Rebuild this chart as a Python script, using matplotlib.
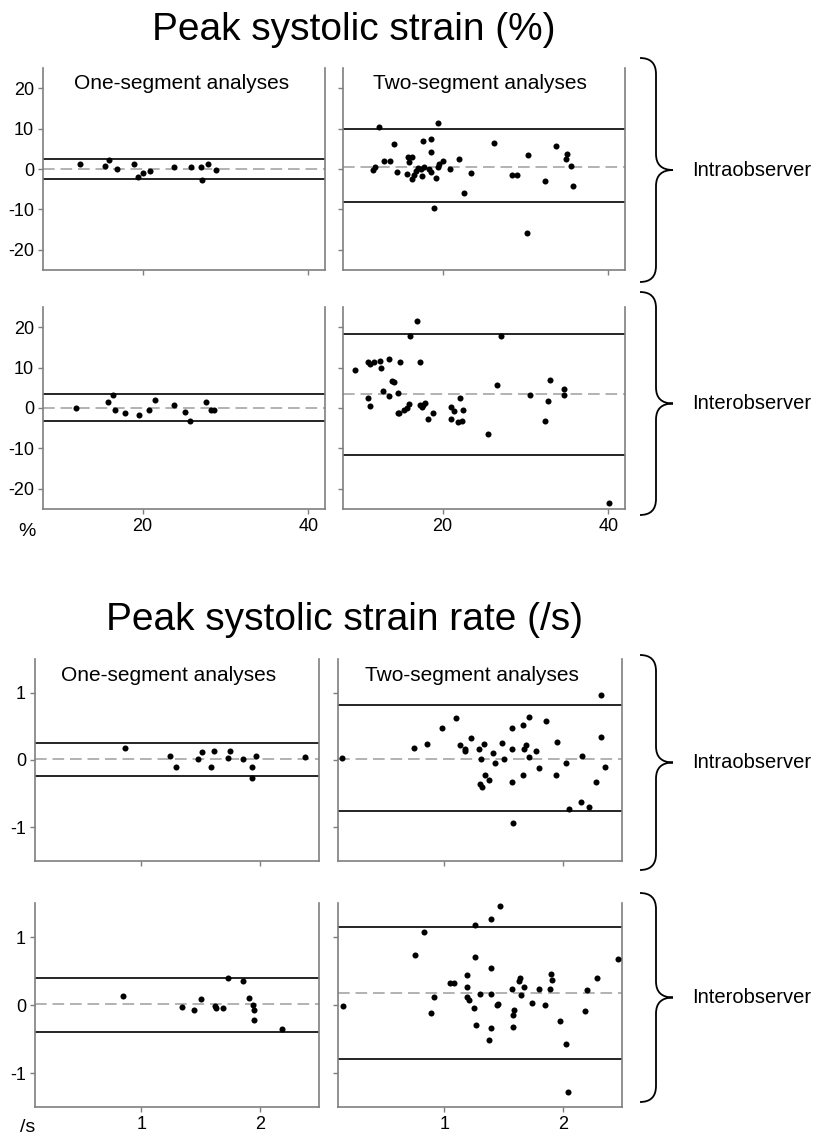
import matplotlib
matplotlib.use("Agg")
import matplotlib.pyplot as plt
from matplotlib.path import Path
from matplotlib.patches import PathPatch

plt.rcParams['font.family'] = ['Liberation Sans', 'DejaVu Sans']

W, H = 820, 1138

# ---------------- data ----------------
# Peak systolic strain (%) - intraobserver, one-segment
s_intra_one_x = [12.5, 15.5, 16.0, 16.9, 19.0, 19.4, 20.1, 20.9, 23.8, 25.8, 27.1, 27.9, 27.2, 28.8]
s_intra_one_y = [1.2, 0.8, 2.2, 0.1, 1.2, -2.0, -0.9, -0.4, 0.6, 0.4, 0.4, 1.2, -2.6, -0.3]
s_intra_one_lines = [0.0, 2.5, -2.5]   # mean, upper, lower

# intraobserver, two-segment
s_intra_two_x = [12.3, 19.5, 14.2, 17.7, 18.6, 18.6, 13.0, 13.7, 15.8, 16.3, 15.9, 20.1, 22.0, 26.2,
                 30.3, 33.7, 35.0, 34.9, 35.5, 35.7, 11.6, 11.9, 14.5, 15.7, 16.3, 16.5, 16.8, 17.0,
                 17.5, 17.4, 17.8, 18.4, 18.6, 19.2, 19.5, 19.6, 20.9, 23.4, 22.6, 19.0, 28.4, 29.0,
                 32.3, 30.2]
s_intra_two_y = [10.5, 11.4, 6.3, 6.9, 7.4, 4.1, 2.1, 2.1, 3.0, 3.0, 1.7, 2.1, 2.5, 6.5,
                 3.4, 5.6, 3.6, 2.5, 0.7, -4.3, -0.2, 0.6, -0.7, -1.2, -2.5, -1.5, -0.5, 0.2,
                 -1.7, 0.1, 0.6, 0.1, -0.7, -2.3, 0.4, 1.2, -0.1, -1.1, -5.9, -9.7, -1.5, -1.5,
                 -3.0, -15.8]
s_intra_two_lines = [0.6, 9.8, -8.1]

# interobserver, one-segment
s_inter_one_x = [12.0, 15.8, 16.4, 16.7, 17.9, 19.6, 20.8, 21.5, 23.8, 25.1, 25.7, 27.7, 28.2, 28.6]
s_inter_one_y = [0.0, 1.4, 3.1, -0.5, -1.2, -1.7, -0.5, 2.0, 0.7, -0.9, -3.3, 1.6, -0.5, -0.6]
s_inter_one_lines = [0.0, 3.4, -3.1]

# interobserver, two-segment
s_inter_two_x = [9.5, 11.0, 11.3, 11.7, 12.5, 12.6, 13.6, 14.9, 16.1, 16.9, 17.3, 13.9, 14.1, 12.8,
                 11.0, 11.3, 13.6, 14.6, 14.6, 14.8, 15.3, 15.7, 16.0, 17.3, 17.5, 17.9, 17.6, 18.8,
                 18.3, 21.0, 21.4, 22.1, 22.5, 21.0, 21.9, 22.4, 25.5, 26.6, 27.0, 30.5, 32.3, 32.7,
                 33.0, 34.6, 34.6, 40.1]
s_inter_two_y = [9.3, 11.5, 11.0, 11.3, 11.6, 9.8, 12.2, 11.5, 17.9, 21.6, 11.5, 6.7, 6.4, 4.1,
                 2.4, 0.6, 3.0, 3.6, -1.2, -1.2, -0.6, 0.0, 1.0, 0.8, 0.2, 1.2, 0.7, -1.2,
                 -2.6, 0.3, -0.8, 2.4, -0.5, -2.7, -3.4, -3.1, -6.5, 5.8, 17.7, 3.2, -3.1, 1.8,
                 7.0, 4.6, 3.2, -23.6]
s_inter_two_lines = [3.5, 18.3, -11.6]

# Peak systolic strain rate (/s) - intraobserver, one-segment
r_intra_one_x = [0.86, 1.24, 1.29, 1.48, 1.51, 1.61, 1.59, 1.73, 1.75, 1.86, 1.93, 1.93, 1.97, 2.38]
r_intra_one_y = [0.18, 0.06, -0.11, 0.02, 0.12, 0.14, -0.10, 0.03, 0.14, 0.01, -0.10, -0.26, 0.06, 0.04]
r_intra_one_lines = [0.01, 0.25, -0.24]

# intraobserver, two-segment
r_intra_two_x = [0.13, 0.74, 0.85, 0.98, 1.10, 1.13, 1.17, 1.17, 1.22, 1.29, 1.33, 1.31, 1.30, 1.32,
                 1.34, 1.38, 1.41, 1.43, 1.49, 1.50, 1.57, 1.57, 1.57, 1.58, 1.66, 1.67, 1.69, 1.71,
                 1.71, 1.66, 1.77, 1.80, 1.86, 1.94, 1.95, 2.03, 2.05, 2.15, 2.16, 2.22, 2.28, 2.32,
                 2.32, 2.36]
r_intra_two_y = [0.03, 0.18, 0.24, 0.47, 0.62, 0.23, 0.17, 0.13, 0.32, 0.17, 0.24, 0.02, -0.36, -0.40,
                 -0.23, -0.30, 0.11, -0.05, 0.25, 0.02, 0.48, 0.17, -0.32, -0.94, 0.52, 0.17, 0.22, 0.64,
                 0.04, -0.22, 0.14, -0.12, 0.58, -0.22, 0.27, -0.04, -0.73, -0.62, 0.06, -0.70, -0.32, 0.34,
                 0.96, -0.10]
r_intra_two_lines = [0.02, 0.82, -0.75]

# interobserver, one-segment
r_inter_one_x = [0.84, 1.34, 1.44, 1.50, 1.62, 1.63, 1.69, 1.73, 1.86, 1.91, 1.94, 1.95, 1.95, 2.19]
r_inter_one_y = [0.13, -0.03, -0.07, 0.09, -0.01, -0.05, -0.05, 0.39, 0.36, 0.10, 0.00, -0.08, -0.22, -0.36]
r_inter_one_lines = [0.02, 0.40, -0.39]

# interobserver, two-segment
r_inter_two_x = [0.14, 0.75, 0.83, 0.91, 0.89, 1.05, 1.08, 1.19, 1.19, 1.19, 1.21, 1.25, 1.26, 1.26,
                 1.27, 1.30, 1.39, 1.47, 1.39, 1.39, 1.39, 1.38, 1.44, 1.45, 1.57, 1.58, 1.58, 1.59,
                 1.63, 1.64, 1.65, 1.67, 1.74, 1.80, 1.85, 1.89, 1.90, 1.91, 1.98, 2.03, 2.04, 2.19,
                 2.20, 2.29, 2.47]
r_inter_two_y = [-0.01, 0.74, 1.08, 0.12, -0.12, 0.33, 0.32, 0.44, 0.26, 0.12, 0.08, -0.04, 1.17, 0.71,
                 -0.29, 0.16, 1.27, 1.45, 0.55, 0.16, -0.34, -0.52, 0.00, 0.01, 0.23, -0.33, -0.15, -0.07,
                 0.35, 0.39, 0.15, 0.26, 0.03, 0.23, 0.00, 0.23, 0.46, 0.37, -0.23, -0.58, -1.28, -0.09,
                 0.22, 0.40, 0.67]
r_inter_two_lines = [0.18, 1.15, -0.80]

strain_yticks = [20, 10, 0, -10, -20]
strain_xticks = [20, 40]
rate_yticks = [1, 0, -1]
rate_xticks = [1, 2]

block_titles = ["Peak systolic strain (%)", "Peak systolic strain rate (/s)"]
panel_titles = ["One-segment analyses", "Two-segment analyses"]
row_labels = ["Intraobserver", "Interobserver"]
unit_labels = ["%", "/s"]

# ---------------- figure ----------------
fig = plt.figure(figsize=(W / 100, H / 100), dpi=100)
fig.patch.set_facecolor("white")

def ax_px(x0, y0, x1, y1):
    return fig.add_axes([x0 / W, 1 - y1 / H, (x1 - x0) / W, (y1 - y0) / H])

SPINE = "#7f7f7f"

def style(ax, xlim, ylim, xticks, yticks, show_x, show_y):
    ax.set_xlim(*xlim)
    ax.set_ylim(*ylim)
    ax.set_xticks(xticks)
    ax.set_yticks(yticks)
    ax.spines["top"].set_visible(False)
    for s in ["left", "bottom", "right"]:
        ax.spines[s].set_color(SPINE)
        ax.spines[s].set_linewidth(1.2)
    ax.tick_params(axis="both", direction="out", length=3.5, width=1, color=SPINE,
                   labelsize=13, pad=3, right=False, top=False)
    if not show_x:
        ax.set_xticklabels([])
    else:
        ax.set_xticklabels([str(t) for t in xticks])
    if not show_y:
        ax.set_yticklabels([])
    else:
        ax.set_yticklabels([str(t) for t in yticks])
    ax.set_facecolor("white")

def draw(ax, xs, ys, lines):
    mean, up, lo = lines
    ax.axhline(up, color="black", lw=1.2, zorder=2)
    ax.axhline(lo, color="black", lw=1.2, zorder=2)
    ax.axhline(mean, color="#a6a6a6", lw=1.2, dashes=(7, 3.5), zorder=1)
    ax.scatter(xs, ys, s=19, color="black", zorder=3, linewidths=0)

strain_panels = [
    ((43, 68, 325, 270), s_intra_one_x, s_intra_one_y, s_intra_one_lines, False, True, 0),
    ((343, 68, 625, 270), s_intra_two_x, s_intra_two_y, s_intra_two_lines, False, False, 1),
    ((43, 307, 325, 509), s_inter_one_x, s_inter_one_y, s_inter_one_lines, True, True, None),
    ((343, 307, 625, 509), s_inter_two_x, s_inter_two_y, s_inter_two_lines, True, False, None),
]
for box, xs, ys, ln, sx, sy, t in strain_panels:
    ax = ax_px(*box)
    style(ax, (8, 42), (-25, 25), strain_xticks, strain_yticks, sx, sy)
    draw(ax, xs, ys, ln)
    if t is not None:
        ax.text(0.49 if t == 0 else 0.485, 0.925, panel_titles[t], transform=ax.transAxes,
                ha="center", va="center", fontsize=15)

rate_panels = [
    ((35, 659, 319, 861), r_intra_one_x, r_intra_one_y, r_intra_one_lines, False, True, 0),
    ((338, 659, 622, 861), r_intra_two_x, r_intra_two_y, r_intra_two_lines, False, False, 1),
    ((35, 903, 319, 1107), r_inter_one_x, r_inter_one_y, r_inter_one_lines, True, True, None),
    ((338, 903, 622, 1107), r_inter_two_x, r_inter_two_y, r_inter_two_lines, True, False, None),
]
for box, xs, ys, ln, sx, sy, t in rate_panels:
    ax = ax_px(*box)
    style(ax, (0.1, 2.5), (-1.5, 1.5), rate_xticks, rate_yticks, sx, sy)
    draw(ax, xs, ys, ln)
    if t is not None:
        ax.text(0.47, 0.92, panel_titles[t], transform=ax.transAxes,
                ha="center", va="center", fontsize=15)

# block titles
fig.text(354 / W, 1 - 30 / H, block_titles[0], ha="center", va="center", fontsize=28)
fig.text(345 / W, 1 - 620 / H, block_titles[1], ha="center", va="center", fontsize=28)

# unit labels
fig.text(18 / W, 1 - 531 / H, unit_labels[0], ha="left", va="center", fontsize=14)
fig.text(20 / W, 1 - 1127 / H, unit_labels[1], ha="left", va="center", fontsize=14)

# braces
def brace(top, bot, x0=640, xs=656, xp=673):
    mid = (top + bot) / 2
    r = 16
    verts = [
        (x0, top), (xs, top), (xs, top + r),
        (xs, mid - r), (xs, mid), (xp, mid),
        (xs, mid), (xs, mid + r),
        (xs, bot - r), (xs, bot), (x0, bot),
    ]
    codes = [Path.MOVETO, Path.CURVE3, Path.CURVE3,
             Path.LINETO, Path.CURVE3, Path.CURVE3,
             Path.CURVE3, Path.CURVE3,
             Path.LINETO, Path.CURVE3, Path.CURVE3]
    verts = [(x / W, 1 - y / H) for x, y in verts]
    p = PathPatch(Path(verts, codes), transform=fig.transFigure, fill=False,
                  lw=1.3, edgecolor="black")
    fig.add_artist(p)
    return mid

brace_spans = [(58, 282), (292, 515), (655, 870), (893, 1102)]
for i, (t, b) in enumerate(brace_spans):
    m = brace(t, b)
    fig.text(692 / W, 1 - m / H, row_labels[i % 2], ha="left", va="center", fontsize=14.5)

fig.savefig("out.png", dpi=100, facecolor="white")
